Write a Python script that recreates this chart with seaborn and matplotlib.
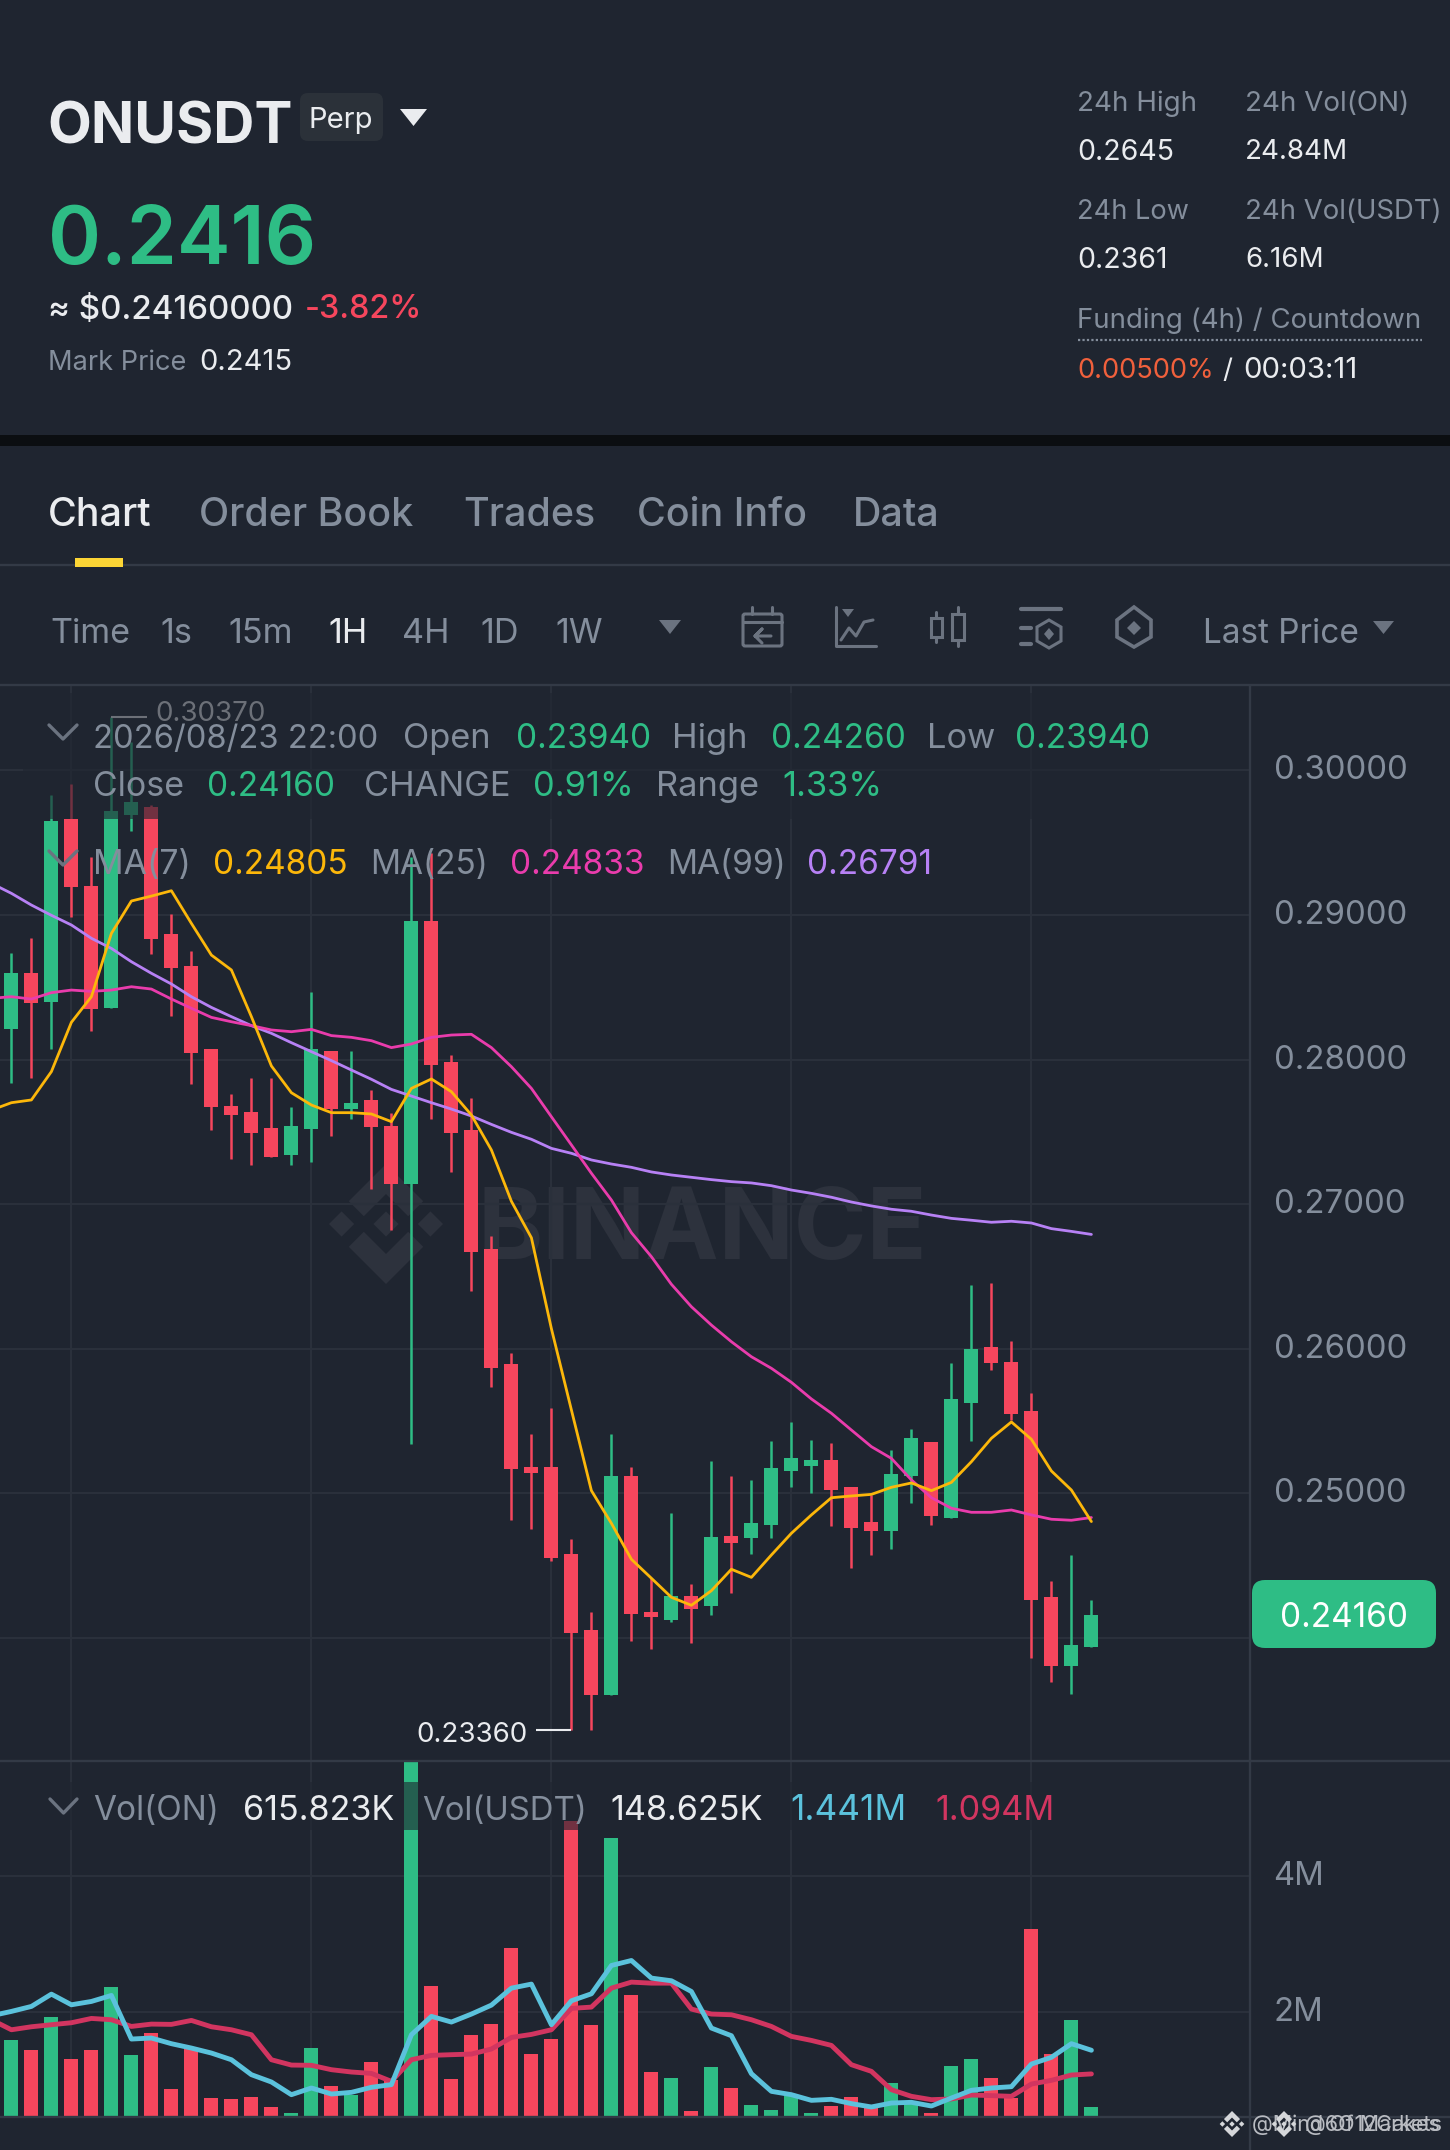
"""
plot.py - ONUSDT perp candlestick screen with MA and volume panels.
"""
import numpy as np
import matplotlib
matplotlib.use("Agg")
import matplotlib.pyplot as plt
from matplotlib.patches import FancyBboxPatch, Polygon, Rectangle
from matplotlib.transforms import ScaledTranslation
import seaborn as sns

candle_open = [.28212, .28597, .28401, .29666, .29201, .28359, .29691, .29749, .28869, .28650, .28071,
               .27681, .27640, .27529, .27343, .27522, .28060, .27661, .27721, .27541, .27142,
               .28961, .27981, .27511, .26692, .25894, .25183, .25180, .24581, .24053, .23604,
               .25120, .24180, .24122, .24290, .24223, .24703, .24694, .24781, .25152, .25189,
               .25231, .25042, .24802, .24742, .25120, .25353, .24832, .25623, .26010, .25911,
               .25570, .24281, .23804, .23940]
candle_close = [.28597, .28394, .29650, .29191, .28350, .29719, .29779, .28832, .28631, .28043, .27675,
                .27619, .27490, .27329, .27539, .28071, .27661, .27700, .27532, .27142, .28961,
                .27960, .27490, .26672, .25864, .25167, .25142, .24551, .24032, .23604, .25120,
                .24164, .24143, .24293, .24203, .24701, .24659, .24793, .25173, .25242, .25231,
                .25023, .24763, .24742, .25132, .25381, .24841, .25650, .26001, .25902, .25551,
                .24263, .23804, .23951, .24160]
candle_high = [.28739, .28839, .29830, .29906, .29399, .30370, .30199, .29758, .29007, .28749, .28071,
               .27760, .27871, .27871, .27670, .28470, .28060, .28060, .27790, .27629, .29403,
               .29426, .28032, .27732, .26782, .25973, .25413, .25590, .24682, .24180, .25411,
               .25180, .24412, .24862, .24371, .25222, .25120, .25093, .25360, .25491, .25369,
               .25351, .25042, .24989, .25300, .25443, .25353, .25899, .26441, .26453, .26051,
               .25692, .24392, .24572, .24260]
candle_low = [.27841, .27871, .28071, .28988, .28200, .28359, .29581, .28730, .28302, .27831, .27513,
              .27313, .27271, .27329, .27271, .27292, .27472, .27592, .27103, .26824, .25344,
              .27592, .27223, .26402, .25735, .24814, .24751, .24535, .23360, .23364, .23604,
              .23982, .23924, .24113, .23963, .24161, .24313, .24581, .24694, .25042, .25003,
              .24772, .24482, .24574, .24613, .24931, .24781, .24832, .25362, .25853, .25507,
              .23864, .23693, .23613, .23940]

# moving averages start one candle left of the visible edge
ma7 = [.27651, .27702, .27721, .27917, .28258, .28435, .28873, .29097, .29131, .29168, .28942, .28723,
       .28620, .28297, .27956, .27771, .27686, .27633, .27633, .27624, .27571, .27801, .27866,
       .27778, .27617, .27375, .27020, .26768, .26139, .25577, .25019, .24793, .24544, .24413,
       .24281, .24226, .24327, .24475, .24419, .24574, .24724, .24851, .24970, .24982, .24993,
       .25042, .25072, .25019, .25076, .25219, .25381, .25494, .25374, .25155, .25023, .24805]
ma25 = [.28424, .28435, .28419, .28463, .28481, .28472, .28481, .28504, .28488, .28419, .28355, .28292,
        .28262, .28235, .28205, .28193, .28209, .28166, .28154, .28131, .28083, .28108, .28154,
        .28170, .28175, .28083, .27951, .27801, .27605, .27410, .27214, .27029, .26803, .26637,
        .26446, .26291, .26164, .26049, .25945, .25865, .25768, .25653, .25554, .25438, .25323,
        .25242, .25093, .24970, .24897, .24869, .24869, .24885, .24851, .24821, .24814, .24833]
ma99 = [.29219, .29150, .29069, .28998, .28931, .28839, .28769, .28677, .28597, .28523, .28435, .28361,
        .28297, .28235, .28182, .28117, .28055, .27993, .27928, .27864, .27794, .27748, .27702,
        .27658, .27610, .27552, .27497, .27449, .27386, .27352, .27306, .27278, .27255, .27223,
        .27202, .27186, .27170, .27156, .27147, .27128, .27098, .27075, .27048, .27015, .26988,
        .26965, .26951, .26925, .26902, .26889, .26875, .26882, .26870, .26831, .26812, .26791]

volume = [1.590, 1.444, 1.922, 1.312, 1.449, 2.366, 1.376, 1.693, .878, 1.473, .741, .727, .761, .610,
          .522, 1.478, .912, .790, 1.268, 1.010, 5.700, 2.385, 1.024, 1.663, 1.829, 2.946, 1.390,
          1.610, 4.805, 1.810, 4.546, 2.249, 1.127, 1.039, .546, 1.200, .888, .634, .566, .766,
          .522, .620, .761, .610, .956, .668, .522, 1.215, 1.312, 1.034, .741, 3.220, 1.385,
          1.883, .616]
vol_ma_blue = [1.946, 2.010, 2.083, 2.263, 2.107, 2.156, 2.244, 1.605, 1.620, 1.537, 1.473, 1.400, 1.302,
               1.083, .976, .790, .888, .800, .824, .898, .937, 1.668, 1.937, 1.854, 1.971, 2.102,
               2.351, 2.410, 1.815, 2.166, 2.268, 2.683, 2.756, 2.498, 2.459, 2.302, 1.766, 1.654,
               1.098, .839, .790, .707, .722, .659, .610, .668, .678, .624, .741, .854, .888, .907,
               1.239, 1.337, 1.537, 1.441]
vol_ma_red = [1.888, 1.741, 1.785, 1.815, 1.844, 1.907, 1.888, 1.790, 1.824, 1.820, 1.878, 1.785, 1.741,
              1.668, 1.302, 1.224, 1.220, 1.156, 1.122, 1.102, .985, 1.302, 1.366, 1.376, 1.385,
              1.459, 1.629, 1.673, 1.741, 2.054, 2.073, 2.351, 2.439, 2.424, 2.424, 2.044, 1.971,
              1.961, 1.888, 1.790, 1.644, 1.585, 1.512, 1.229, 1.132, .863, .766, .717, .727, .785,
              .776, .766, .946, 1.000, 1.078, 1.094]

price_ticks = [.24, .25, .26, .27, .28, .29, .30]
price_labels = ["", "0.25000", "0.26000", "0.27000", "0.28000", "0.29000", "0.30000"]
vol_ticks = [2, 4]
vol_labels = ["2M", "4M"]
time_grid = [3, 15, 27, 39, 51]

BG = "#1f2530"
GREEN = "#2ebd85"
RED = "#f6465d"
GRAY = "#848e9c"
DIM = "#6b7380"
WHITE = "#eaecef"
GRID = "#2a303b"
LINE = "#333a46"
YELLOW = "#fcb70a"
PINK = "#e93cac"
PURPLE = "#b781f5"
BLUE = "#5bc2dc"
CRIMSON = "#d23560"
MARK = "#2d323d"

sns.set_theme(style="dark")
plt.rcParams["font.family"] = ["Inter", "DejaVu Sans"]

W, H = 1450, 2150
PLOT_RIGHT = 1250
fig = plt.figure(figsize=(W / 100, H / 100), dpi=100, facecolor=BG)


def px_axes(left, top, right, bottom, zorder):
    ax = fig.add_axes([left / W, 1 - bottom / H, (right - left) / W, (bottom - top) / H], zorder=zorder)
    ax.patch.set_visible(False)
    return ax


def logo(ax, cx, cy, r, color, zorder=2):
    # Binance mark: three small diamonds and two chevrons
    for dx in (-.74, 0, .74):
        pts = [(dx - .21, 0), (dx, -.21), (dx + .21, 0), (dx, .21)]
        ax.add_patch(Polygon([(cx + x * r, cy + y * r) for x, y in pts], color=color, lw=0, zorder=zorder))
    for sign in (-1, 1):
        pts = [(0, -1), (.62, -.38), (.37, -.13), (0, -.5), (-.37, -.13), (-.62, -.38)]
        ax.add_patch(Polygon([(cx + x * r, cy + sign * y * r) for x, y in pts], color=color, lw=0, zorder=zorder))


def style_panel(ax, xlim, ylim, ticks, labels, size):
    ax.set_xlim(*xlim)
    ax.set_ylim(*ylim)
    ax.set_xlabel("")
    ax.set_ylabel("")
    ax.set_xticks(time_grid)
    ax.set_yticks(ticks)
    ax.set_yticklabels(labels)
    ax.yaxis.tick_right()
    ax.tick_params(axis="y", length=0, pad=17, labelcolor=GRAY, labelsize=size)
    ax.tick_params(axis="x", length=0, labelbottom=False)
    ax.grid(True, color=GRID, linewidth=1.5)
    ax.set_axisbelow(True)
    sns.despine(ax=ax, left=True, bottom=True, right=True, top=True)
    # labels sit a little above their gridline
    lift = ScaledTranslation(0, 3 / 100, fig.dpi_scale_trans)
    for label in ax.get_yticklabels():
        label.set_transform(label.get_transform() + lift)


idx = np.arange(len(candle_open))
ma_x = np.arange(-1, len(candle_open))
is_up = np.array(candle_close) >= np.array(candle_open)
candle_colors = [GREEN if up else RED for up in is_up]
x_range = ((0 - 11.4) / 20, (PLOT_RIGHT - 11.4) / 20)

# watermark sits under the candles
ax_bg = px_axes(0, 0, W, H, 0)
ax_bg.set_xlim(0, W)
ax_bg.set_ylim(H, 0)
ax_bg.axis("off")
logo(ax_bg, 386, 1224, 60, MARK)
ax_bg.text(478, 1233, "BINANCE", color=MARK, fontsize=71, fontweight="bold", va="center")

# price panel
ax_p = px_axes(0, 686, PLOT_RIGHT, 1761, 1)
bottoms = np.minimum(candle_open, candle_close)
heights = np.abs(np.array(candle_close) - np.array(candle_open))
ax_p.vlines(idx, candle_low, candle_high, colors=candle_colors, linewidth=1.8, zorder=2)
ax_p.bar(idx, np.maximum(heights, .00012), bottom=bottoms, width=.7, color=candle_colors, linewidth=0, zorder=2)
sns.lineplot(x=ma_x, y=ma99, color=PURPLE, linewidth=2.0, errorbar=None, ax=ax_p, zorder=3)
sns.lineplot(x=ma_x, y=ma25, color=PINK, linewidth=2.0, errorbar=None, ax=ax_p, zorder=3)
sns.lineplot(x=ma_x, y=ma7, color=YELLOW, linewidth=2.0, errorbar=None, ax=ax_p, zorder=3)
style_panel(ax_p, x_range, (.23149, .30584), price_ticks, price_labels, 23.7)

# high and low markers
hi_i = int(np.argmax(candle_high))
lo_i = int(np.argmin(candle_low))
ax_p.hlines(max(candle_high), hi_i, hi_i + 1.8, color=WHITE, linewidth=1.5, zorder=3)
ax_p.annotate("0.30370", (hi_i + 2.2, max(candle_high)), xytext=(0, 2), textcoords="offset points",
              color=WHITE, fontsize=20, va="center")
ax_p.hlines(min(candle_low), lo_i - 1.75, lo_i, color=WHITE, linewidth=1.5, zorder=3)
ax_p.annotate("0.23360", (lo_i - 2.2, min(candle_low)), xytext=(0, -3), textcoords="offset points",
              color=WHITE, fontsize=20, va="center", ha="right")

# volume panel
ax_v = px_axes(0, 1762, PLOT_RIGHT, 2117, 1)
sns.barplot(x=idx, y=volume, hue=["up" if up else "down" for up in is_up],
            palette={"up": GREEN, "down": RED}, native_scale=True, width=.7, dodge=False,
            saturation=1, linewidth=0, legend=False, ax=ax_v, zorder=2)
sns.lineplot(x=ma_x, y=vol_ma_red, color=CRIMSON, linewidth=3.5, errorbar=None, ax=ax_v, zorder=3)
sns.lineplot(x=ma_x, y=vol_ma_blue, color=BLUE, linewidth=3.5, errorbar=None, ax=ax_v, zorder=3)
style_panel(ax_v, x_range, (.463, 5.664), vol_ticks, vol_labels, 23.7)

# everything else is screen furniture in pixel coordinates
ui = px_axes(0, 0, W, H, 5)
ui.set_xlim(0, W)
ui.set_ylim(H, 0)
ui.axis("off")


def txt(x, y, s, color=GRAY, size=20, weight="normal", ha="left"):
    ui.text(x, y + 7, s, color=color, fontsize=size, fontweight=weight, ha=ha, va="center", zorder=6)


def tri(x0, x1, y0, y1, color):
    ui.add_patch(Polygon([(x0, y0), (x1, y0), ((x0 + x1) / 2, y1)], color=color, lw=0, zorder=6))


def chevron(x0, x1, y0, y1):
    ui.plot([x0, (x0 + x1) / 2, x1], [y0, y1, y0], color=DIM, lw=2.4, zorder=6)


# legend strips dim what is under them
ui.add_patch(Rectangle((23, 693), 1137, 126, color=BG, alpha=.62, lw=0, zorder=4))
ui.add_patch(Rectangle((30, 1782), 1035, 48, color=BG, alpha=.62, lw=0, zorder=4))

# frame lines
ui.fill_between([0, W], 435, 446, color="#0b0e11", lw=0)
for y in (565, 685, 1761, 2117):
    ui.plot([0, W], [y, y], color=LINE, lw=1.7, zorder=4)
ui.plot([PLOT_RIGHT, PLOT_RIGHT], [686, H], color=LINE, lw=1.7, zorder=4)
ui.fill_between([75, 123], 558, 567, color="#fcd535", lw=0, zorder=5)

# header
txt(47, 122, "ONUSDT", WHITE, 41, "bold")
ui.add_patch(FancyBboxPatch((300, 93), 83, 48, boxstyle="round,pad=0,rounding_size=8",
                            color="#2b3139", lw=0, zorder=5))
txt(341, 113, "Perp", WHITE, 21, ha="center")
tri(400, 427, 109, 126, WHITE)
txt(48, 236, "0.2416", GREEN, 58, "semibold")
txt(48, 303, "≈ $0.24160000", WHITE, 23.8, "medium")
txt(305, 303, "-3.82%", RED, 23.3, "medium")
txt(48, 356, "Mark Price", GRAY, 19.6)
txt(199, 356, "0.2415", WHITE, 21)

txt(1077, 97, "24h High", GRAY, 20)
txt(1245, 97, "24h Vol(ON)", GRAY, 20)
txt(1077, 145, "0.2645", WHITE, 20.5)
txt(1245, 145, "24.84M", WHITE, 20)
txt(1077, 205, "24h Low", GRAY, 19.6)
txt(1245, 205, "24h Vol(USDT)", GRAY, 19.8)
txt(1077, 253, "0.2361", WHITE, 20.5)
txt(1245, 253, "6.16M", WHITE, 20)
txt(1077, 314, "Funding (4h) / Countdown", GRAY, 19.9)
ui.plot([1078, 1422], [340, 340], color=GRAY, lw=1.6, ls=(0, (1, 1)), zorder=6)
txt(1077, 364, "0.00500%", "#f0603c", 19.6)
txt(1222, 364, "/", WHITE, 20)
txt(1243, 364, "00:03:11", WHITE, 21.2)

# tabs
for x, s, c in [(48, "Chart", WHITE), (199, "Order Book", GRAY), (463, "Trades", GRAY),
                (637, "Coin Info", GRAY), (853, "Data", GRAY)]:
    txt(x, 508, s, c, 28.4, "medium")

# interval bar
for x, s, c in [(50, "Time", GRAY), (160, "1s", GRAY), (228, "15m", GRAY), (328, "1H", WHITE),
                (402, "4H", GRAY), (480, "1D", GRAY), (555, "1W", GRAY)]:
    txt(x, 627, s, c, 24.6)
tri(659, 681, 620, 634, DIM)
txt(1203, 627, "Last Price", GRAY, 24)
tri(1373, 1394, 621, 634, DIM)

# toolbar icons
lw_i = 2.2
ui.add_patch(FancyBboxPatch((743, 614), 39, 32, boxstyle="round,pad=0,rounding_size=2", fill=False, ec=DIM, lw=lw_i, zorder=6))
ui.plot([743, 782], [622, 622], color=DIM, lw=lw_i, zorder=6)
ui.plot([752, 752], [607, 614], color=DIM, lw=lw_i, zorder=6)
ui.plot([772, 772], [607, 614], color=DIM, lw=lw_i, zorder=6)
ui.plot([771, 755, 762, 755, 762], [636, 636, 629, 636, 643], color=DIM, lw=lw_i, zorder=6)
ui.plot([836, 836, 876], [607, 646, 646], color=DIM, lw=lw_i, zorder=6)
tri(842, 854, 609, 617, DIM)
ui.plot([841, 849, 856, 864, 873], [640, 628, 636, 622, 620], color=DIM, lw=lw_i, zorder=6)
for x0, x1, y0, y1, w0, w1 in [(931, 942, 618, 637, 612, 642), (952, 964, 614, 640, 607, 646)]:
    ui.add_patch(Rectangle((x0, y0), x1 - x0, y1 - y0, fill=False, ec=DIM, lw=lw_i, zorder=6))
    ui.plot([(x0 + x1) / 2] * 2, [w0, y0], color=DIM, lw=lw_i, zorder=6)
    ui.plot([(x0 + x1) / 2] * 2, [y1, w1], color=DIM, lw=lw_i, zorder=6)
ui.plot([1021, 1061], [609, 609], color=DIM, lw=lw_i + .8, zorder=6)
ui.plot([1021, 1031], [628, 628], color=DIM, lw=lw_i + .8, zorder=6)
ui.plot([1021, 1031], [644, 644], color=DIM, lw=lw_i + .8, zorder=6)
ui.add_patch(Polygon([(1049, 620), (1061, 627), (1061, 641), (1049, 648), (1037, 641), (1037, 627)], fill=False, ec=DIM, lw=lw_i, zorder=6))
ui.add_patch(Polygon([(1049, 628), (1054, 634), (1049, 640), (1044, 634)], color=DIM, lw=0, zorder=6))
ui.add_patch(Polygon([(1134, 607), (1151, 620), (1151, 637), (1134, 647), (1117, 637), (1117, 620)], fill=False, ec=DIM, lw=lw_i + .4, zorder=6))
ui.add_patch(Polygon([(1134, 621), (1141, 628), (1134, 635), (1127, 628)], color=DIM, lw=0, zorder=6))

# chart legend rows
chevron(49, 77, 725, 739)
chevron(49, 77, 851, 865)
txt(93, 732, "2026/08/23 22:00", GRAY, 23.5)
for x, s, c, size in [(403, "Open", GRAY, 24.8), (516, "0.23940", GREEN, 24), (672, "High", GRAY, 24.8),
                      (771, "0.24260", GREEN, 24), (927, "Low", GRAY, 24.8), (1015, "0.23940", GREEN, 24)]:
    txt(x, 732, s, c, size)
for x, s, c, size in [(93, "Close", GRAY, 24.4), (207, "0.24160", GREEN, 24), (364, "CHANGE", GRAY, 24.8),
                      (533, "0.91%", GREEN, 24.8), (656, "Range", GRAY, 24.8), (782, "1.33%", GREEN, 24.8)]:
    txt(x, 780, s, c, size)
for x, s, c, size in [(93, "MA(7)", GRAY, 24.4), (213, "0.24805", YELLOW, 24), (370, "MA(25)", GRAY, 24),
                      (510, "0.24833", PINK, 24), (667, "MA(99)", GRAY, 24), (807, "0.26791", PURPLE, 24)]:
    txt(x, 858, s, c, size)

# last price tag
ui.add_patch(FancyBboxPatch((1252, 1580), 184, 68, boxstyle="round,pad=0,rounding_size=13",
                            color=GREEN, lw=0, zorder=5))
txt(1344, 1611, "0.24160", "white", 24, ha="center")

# volume legend
chevron(50, 77, 1799, 1813)
for x, s, c, size in [(93, "Vol(ON)", GRAY, 24), (243, "615.823K", WHITE, 24.6), (422, "Vol(USDT)", GRAY, 23.7),
                      (610, "148.625K", WHITE, 24.6), (790, "1.441M", BLUE, 25.4), (935, "1.094M", CRIMSON, 24.6)]:
    txt(x, 1804, s, c, size)

# overlapping reposter marks, bottom right
logo(ui, 1232, 2124, 13, "#d5d7da", zorder=7)
logo(ui, 1284, 2124, 13, "#d5d7da", zorder=7)
txt(1252, 2118, "@Mind Of Markets", "#b9bcc2", 15.5)
txt(1305, 2118, "@6O12Cakes", "#b9bcc2", 15.5)

fig.savefig("out.png", dpi=100, facecolor=BG)
